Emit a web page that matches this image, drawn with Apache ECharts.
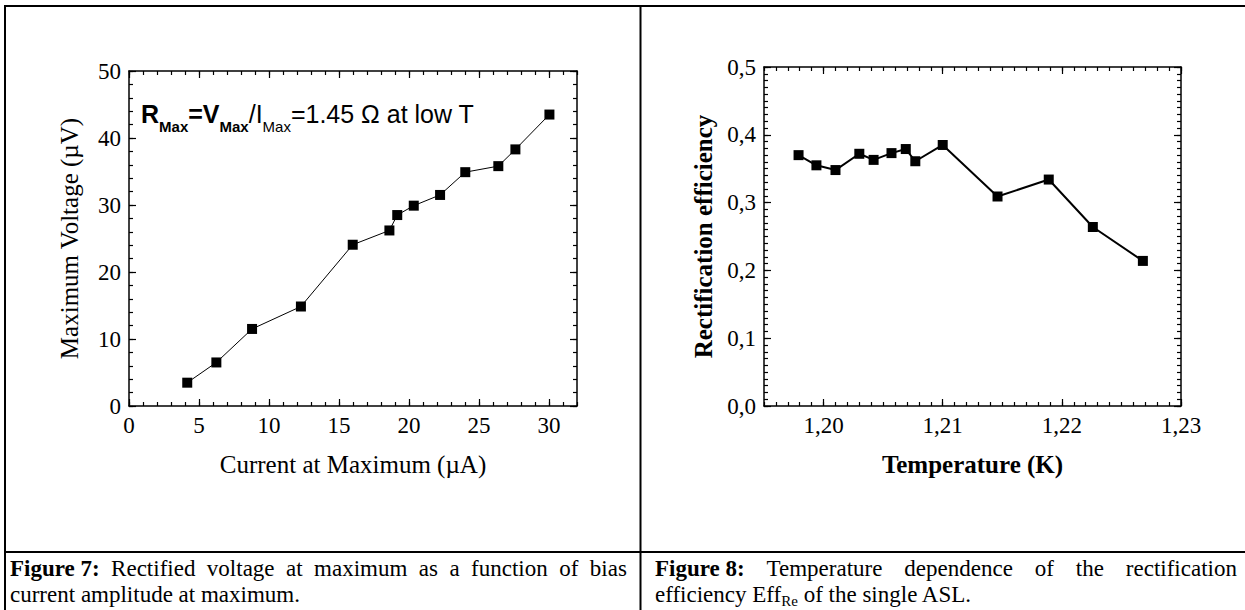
<!DOCTYPE html>
<html><head><meta charset="utf-8">
<script src="https://cdn.jsdelivr.net/npm/echarts@6/dist/echarts.min.js"></script>
<style>
html,body{margin:0;padding:0;background:#fff;}
#chart{position:absolute;left:0;top:0;width:1245px;height:610px;}
.cap{position:absolute;font-family:"Liberation Serif","Times New Roman",serif;font-size:23px;line-height:21px;color:#000;white-space:nowrap;}
.just{display:flex;justify-content:space-between;}
.cap b{font-weight:bold;}
.cap sub{font-size:15px;line-height:0;vertical-align:-4px;}
</style></head><body>
<div id="chart"></div>
<div class="cap just" style="left:10px;top:558px;width:617px;"><b>Figure&nbsp;7:</b><span>Rectified</span><span>voltage</span><span>at</span><span>maximum</span><span>as</span><span>a</span><span>function</span><span>of</span><span>bias</span></div>
<div class="cap" style="left:10px;top:584px;">current amplitude at maximum.</div>
<div class="cap just" style="left:655px;top:558px;width:582px;"><b>Figure&nbsp;8:</b><span>Temperature</span><span>dependence</span><span>of</span><span>the</span><span>rectification</span></div>
<div class="cap" style="left:655px;top:584px;">efficiency Eff<sub>Re</sub> of the single ASL.</div>
<script>
// ---- data ----
const currentUA = [4.16, 6.24, 8.79, 12.28, 15.98, 18.6, 19.16, 20.34, 22.22, 24.02, 26.38, 27.6, 30.03];
const voltageUV = [3.48, 6.5, 11.5, 14.85, 24.07, 26.2, 28.5, 29.9, 31.5, 34.9, 35.8, 38.3, 43.5];
const temperatureK = [1.1979, 1.1994, 1.2010, 1.2030, 1.2042, 1.2057, 1.2069, 1.2077, 1.2100, 1.2146, 1.2189, 1.2226, 1.2268];
const efficiency = [0.370, 0.355, 0.348, 0.372, 0.363, 0.373, 0.379, 0.361, 0.385, 0.309, 0.334, 0.264, 0.214];
const xTicks7 = [0, 5, 10, 15, 20, 25, 30];
const yTicks7 = [0, 10, 20, 30, 40, 50];
const xTicks8 = [1.20, 1.21, 1.22, 1.23];
const yTicks8 = [0, 0.1, 0.2, 0.3, 0.4, 0.5];
const annotationRuns = [
  {t: 'R', bold: true, sub: false},
  {t: 'Max', bold: true, sub: true},
  {t: '=V', bold: true, sub: false},
  {t: 'Max', bold: true, sub: true},
  {t: '/I', bold: false, sub: false},
  {t: 'Max', bold: false, sub: true},
  {t: '=1.45 \u03A9 at low T', bold: false, sub: false}
];

const SERIF = '"Liberation Serif", "Times New Roman", serif';
const SANS = '"Liberation Sans", Arial, sans-serif';
const BLACK = '#000';

function isMajor(v, list) { return list.some(t => Math.abs(t - v) < 1e-7); }

function makeAxes(dir, cfg) {
  const axes = [];
  const base = {type: 'value', min: cfg.min, max: cfg.max, splitLine: {show: false}};
  cfg.pos.forEach((p, k) => {
    axes.push(Object.assign({}, base, {
      gridIndex: cfg.grid, position: p, interval: cfg.minor,
      axisLine: {show: true, onZero: false, lineStyle: {color: BLACK, width: 1.5}},
      axisTick: {show: true, inside: true, length: 4, lineStyle: {color: BLACK, width: 1.2}},
      axisLabel: k === 0 ? {show: true, formatter: cfg.fmt, color: BLACK, fontFamily: SERIF, fontSize: 23, margin: 8} : {show: false},
      name: k === 0 ? cfg.name : '',
      nameLocation: 'middle', nameGap: cfg.nameGap,
      nameTextStyle: {color: BLACK, fontFamily: SERIF, fontSize: 25, fontWeight: cfg.nameBold ? 'bold' : 'normal'}
    }));
  });
  cfg.pos.forEach((p) => {
    axes.push(Object.assign({}, base, {
      gridIndex: cfg.overlay, position: p, interval: cfg.major,
      axisLine: {show: false, onZero: false},
      axisTick: {show: true, inside: true, length: 7, customValues: cfg.ticks, lineStyle: {color: BLACK, width: 1.2}},
      axisLabel: {show: false}
    }));
  });
  return axes;
}

const grid7 = {left: 129, top: 71, width: 448, height: 335};
const grid8 = {left: 764, top: 67, width: 417, height: 339};

const xAxes = [].concat(
  makeAxes('x', {grid: 0, overlay: 1, min: 0, max: 32, minor: 1, major: 5, ticks: xTicks7,
    fmt: v => isMajor(v, xTicks7) ? String(Math.round(v)) : '',
    name: 'Current at Maximum (\u00B5A)', nameGap: 46, nameBold: false, pos: ['bottom', 'top']}),
  makeAxes('x', {grid: 2, overlay: 3, min: 1.195, max: 1.23, minor: 0.001, major: 0.005, ticks: xTicks8,
    fmt: v => isMajor(v, xTicks8) ? v.toFixed(2).replace('.', ',') : '',
    name: 'Temperature (K)', nameGap: 46, nameBold: true, pos: ['bottom', 'top']})
);
const yAxes = [].concat(
  makeAxes('y', {grid: 0, overlay: 1, min: 0, max: 50, minor: 2, major: 10, ticks: yTicks7,
    fmt: v => isMajor(v, yTicks7) ? String(Math.round(v)) : '',
    name: 'Maximum Voltage (\u00B5V)', nameGap: 47, nameBold: false, pos: ['left', 'right']}),
  makeAxes('y', {grid: 2, overlay: 3, min: 0, max: 0.5, minor: 0.01, major: 0.1, ticks: yTicks8,
    fmt: v => isMajor(v, yTicks8) ? v.toFixed(1).replace('.', ',') : '',
    name: 'Rectification efficiency', nameGap: 48, nameBold: true, pos: ['left', 'right']})
);

// annotation text laid out with measured widths
const ctx = document.createElement('canvas').getContext('2d');
const annGraphics = [];
(function () {
  let x = 141;
  const baseline = 123;
  annotationRuns.forEach(r => {
    const size = r.sub ? 15 : 25;
    const font = (r.bold ? 'bold ' : '') + size + 'px ' + SANS;
    ctx.font = font;
    const w = ctx.measureText(r.t).width;
    const bl = baseline + (r.sub ? 9 : 0);
    annGraphics.push({
      type: 'text', x: x, y: bl - 0.3465 * size, silent: true,
      style: {text: r.t, fontFamily: SANS, fontSize: size, fontWeight: r.bold ? 'bold' : 'normal',
        fill: BLACK, textAlign: 'left', textVerticalAlign: 'middle', align: 'left', verticalAlign: 'middle'}
    });
    x += w;
  });
})();

const borderStyle = {stroke: BLACK, lineWidth: 2};
const borders = [
  {type: 'line', shape: {x1: 4, y1: 6, x2: 1245, y2: 6}, style: borderStyle, silent: true},
  {type: 'line', shape: {x1: 5, y1: 5, x2: 5, y2: 610}, style: borderStyle, silent: true},
  {type: 'line', shape: {x1: 640.5, y1: 6, x2: 640.5, y2: 610}, style: borderStyle, silent: true},
  {type: 'line', shape: {x1: 4, y1: 552, x2: 1245, y2: 552}, style: borderStyle, silent: true}
];

const chart = echarts.init(document.getElementById('chart'), null, {renderer: 'svg'});
chart.setOption({
  animation: false,
  backgroundColor: 'transparent',
  grid: [grid7, grid7, grid8, grid8],
  xAxis: xAxes,
  yAxis: yAxes,
  series: [
    {type: 'line', xAxisIndex: 0, yAxisIndex: 0,
      data: currentUA.map((x, i) => [x, voltageUV[i]]),
      symbol: 'rect', symbolSize: 10, showSymbol: true,
      lineStyle: {color: BLACK, width: 1}, itemStyle: {color: BLACK}},
    {type: 'line', xAxisIndex: 4, yAxisIndex: 4,
      data: temperatureK.map((x, i) => [x, efficiency[i]]),
      symbol: 'rect', symbolSize: 10, showSymbol: true,
      lineStyle: {color: BLACK, width: 2}, itemStyle: {color: BLACK}}
  ],
  graphic: borders.concat(annGraphics)
});
</script>
</body></html>
